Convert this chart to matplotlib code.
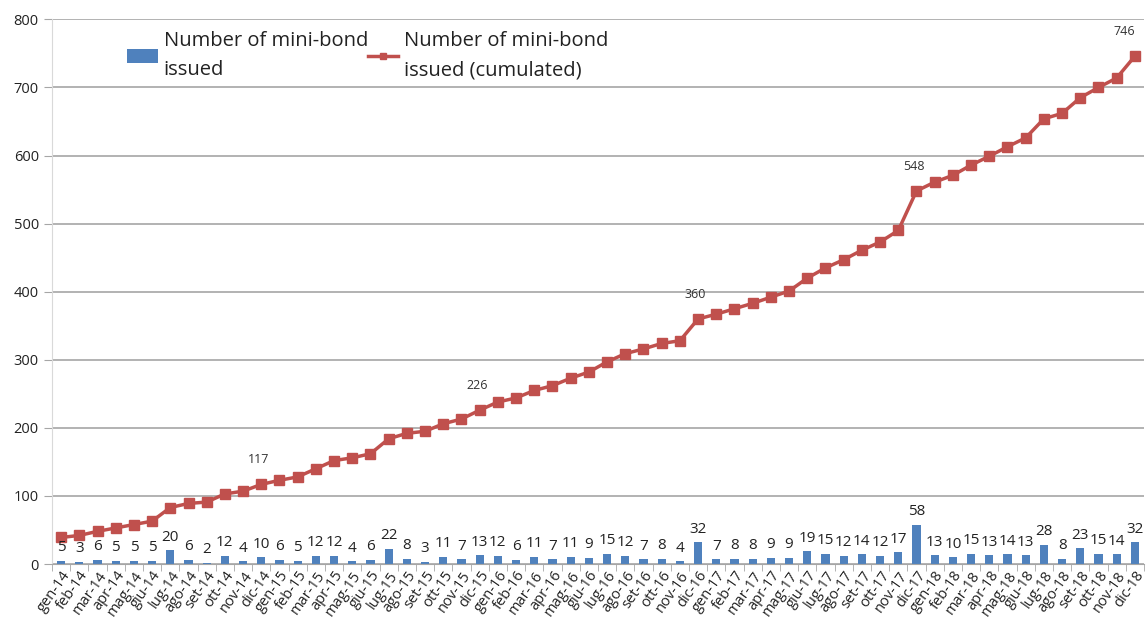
import numpy as np
import matplotlib.pyplot as plt

plt.rcParams['font.family'] = ['Open Sans', 'DejaVu Sans']

months = ['gen', 'feb', 'mar', 'apr', 'mag', 'giu',
          'lug', 'ago', 'set', 'ott', 'nov', 'dic']
years = ['14', '15', '16', '17', '18']
labels = [m + '-' + y for y in years for m in months]

issued = [5, 3, 6, 5, 5, 5, 20, 6, 2, 12, 4, 10,
          6, 5, 12, 12, 4, 6, 22, 8, 3, 11, 7, 13,
          12, 6, 11, 7, 11, 9, 15, 12, 7, 8, 4, 32,
          7, 8, 8, 9, 9, 19, 15, 12, 14, 12, 17, 58,
          13, 10, 15, 13, 14, 13, 28, 8, 23, 15, 14, 32]

cumulated = [39, 42, 48, 53, 58, 63, 83, 89, 91, 103, 107, 117,
             123, 128, 140, 152, 156, 162, 184, 192, 195, 206, 213, 226,
             238, 244, 255, 262, 273, 282, 297, 309, 316, 324, 328, 360,
             367, 375, 383, 392, 401, 420, 435, 447, 461, 473, 490, 548,
             561, 571, 586, 599, 613, 626, 654, 662, 685, 700, 714, 746]

BLUE = '#4F81BD'
RED = '#C0504D'

fig = plt.figure(figsize=(11.48, 6.26), dpi=100)
ax = fig.add_axes([0.0453, 0.099, 0.9512, 0.870])

x = np.arange(len(labels))
bars = ax.bar(x, issued, width=0.45, color=BLUE, zorder=2,
              label='Number of mini-bond\nissued')
line, = ax.plot(x, cumulated, color=RED, lw=2.5, marker='s', ms=7,
                zorder=3, label='Number of mini-bond\nissued (cumulated)')

# monthly values above the bars
for xi, v in zip(x, issued):
    ax.annotate(str(v), (xi, v), xytext=(0, 4), textcoords='offset points',
                ha='center', va='bottom', fontsize=11, color='#222222')

# year-end totals on the cumulative line
for i in range(11, len(cumulated), 12):
    dx = -8 if i == len(cumulated) - 1 else -2
    ax.annotate(str(cumulated[i]), (x[i], cumulated[i]), xytext=(dx, 13),
                textcoords='offset points', ha='center', va='bottom',
                fontsize=9, color='#333333')

ax.set_xlim(-0.5, len(labels) - 0.5)
ax.set_ylim(0, 800)
ax.set_yticks(range(0, 801, 100))
ax.yaxis.grid(True, color='#A6A6A6', lw=1.2)
ax.set_axisbelow(True)

ax.set_xticks(x)
ax.set_xticklabels(labels, rotation=55, ha='right', rotation_mode='anchor',
                   fontsize=10.5, color='#222222')
ax.set_xticks(np.arange(-0.5, len(labels)), minor=True)
ax.tick_params(axis='x', which='major', length=0, pad=3)
ax.tick_params(axis='x', which='minor', length=5, color='#A6A6A6')
ax.tick_params(axis='y', length=6, color='#A6A6A6', labelsize=10.5,
               labelcolor='#222222')

for s in ['top', 'right']:
    ax.spines[s].set_visible(False)
ax.spines['left'].set_color('#D9D9D9')
ax.spines['bottom'].set_color('#A6A6A6')

leg = ax.legend(handles=[bars, line], ncol=2, frameon=False, fontsize=14.5,
                loc='upper left', bbox_to_anchor=(0.069, 0.978),
                borderaxespad=0, borderpad=0, markerscale=0.6,
                handlelength=1.5, handletextpad=0.3, columnspacing=0.0)
for t in leg.get_texts():
    t.set_linespacing(1.6)
    t.set_color('#222222')

fig.savefig('out.png', dpi=100)
